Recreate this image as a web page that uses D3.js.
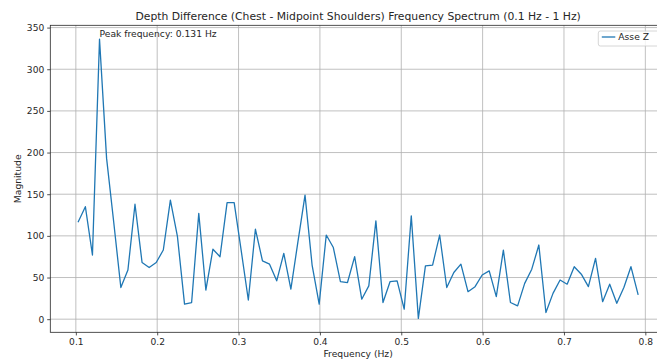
<!DOCTYPE html>
<html lang="en">
<head>
    <meta charset="utf-8">
    <title>Frequency Spectrum</title>
    <script src="https://d3js.org/d3.v7.min.js"></script>
    <style type="text/css">
        body{
            margin: 0;
            background: white;
            overflow: hidden;
        }
        text{
            font-family: "DejaVu Sans", sans-serif;
            fill: #262626;
        }
        .tick text{
            font-size: 9.1px;
        }
        .grid line{
            stroke: #b0b0b0;
            stroke-width: 0.8;
        }
    </style>
</head>
<body>
    <div id="frame"></div>
    <script type="text/javascript">

        // frequency bins (Hz)
        const frequencies = [
            0.1030, 0.1117, 0.1204, 0.1291, 0.1378, 0.1465, 0.1553, 0.1640, 0.1727, 0.1814,
            0.1901, 0.1988, 0.2075, 0.2162, 0.2249, 0.2336, 0.2423, 0.2511, 0.2598, 0.2685,
            0.2772, 0.2859, 0.2946, 0.3033, 0.3120, 0.3207, 0.3294, 0.3381, 0.3469, 0.3556,
            0.3643, 0.3730, 0.3817, 0.3904, 0.3991, 0.4078, 0.4165, 0.4252, 0.4339, 0.4427,
            0.4514, 0.4601, 0.4688, 0.4775, 0.4862, 0.4949, 0.5036, 0.5123, 0.5210, 0.5297,
            0.5385, 0.5472, 0.5559, 0.5646, 0.5733, 0.5820, 0.5907, 0.5994, 0.6081, 0.6168,
            0.6255, 0.6342, 0.6430, 0.6517, 0.6604, 0.6691, 0.6778, 0.6865, 0.6952, 0.7039,
            0.7126, 0.7213, 0.7300, 0.7388, 0.7475, 0.7562, 0.7649, 0.7736, 0.7823, 0.7910
        ];

        // magnitude, "Asse Z"
        const magnitudes = [
            117, 135, 77, 336, 193, 117, 38, 59, 138, 68,
            62, 68, 83, 143, 99, 18, 20, 127, 35, 84,
            75, 140, 140, 82, 23, 108, 70, 66, 46, 79,
            36, 93, 149, 65, 18, 101, 86, 45, 44, 75,
            24, 40, 118, 20, 45, 46, 12, 124, 1, 64,
            65, 101, 38, 56, 66, 33, 39, 53, 58, 27,
            83, 20, 16, 43, 60, 89, 8, 31, 47, 42,
            63, 54, 39, 73, 21, 42, 19, 38, 63, 30
        ];

        const xTicks = [0.1, 0.2, 0.3, 0.4, 0.5, 0.6, 0.7, 0.8];
        const yTicks = [0, 50, 100, 150, 200, 250, 300, 350];

        const seriesName = "Asse Z";
        const peakLabel = "Peak frequency: 0.131 Hz";
        const title = "Depth Difference (Chest - Midpoint Shoulders) Frequency Spectrum (0.1 Hz - 1 Hz)";

        const w = 657;
        const h = 362;
        // the axes run past the right edge of the window, as in the picture
        const mLeft = 50.3, mRight = 666, mTop = 25.3, mBottom = 332.3;

        const data = frequencies.map((f, i) => ({f: f, m: magnitudes[i]}));

        // matplotlib style 5% margins
        const fExt = d3.extent(frequencies);
        const mExt = d3.extent(magnitudes);
        const fPad = (fExt[1] - fExt[0]) * 0.05;
        const mPad = (mExt[1] - mExt[0]) * 0.05;

        const x = d3.scaleLinear()
            .domain([fExt[0] - fPad, fExt[1] + fPad])
            .range([mLeft, mRight]);

        const y = d3.scaleLinear()
            .domain([mExt[0] - mPad, mExt[1] + mPad])
            .range([mBottom, mTop]);

        const svg = d3.select("#frame").append("svg")
            .attr("width", w)
            .attr("height", h);

        //Grid
        svg.append("g")
            .attr("class", "grid")
            .selectAll("line.v")
            .data(xTicks)
            .enter()
            .append("line")
            .attr("x1", d => x(d)).attr("x2", d => x(d))
            .attr("y1", mTop).attr("y2", mBottom);

        svg.append("g")
            .attr("class", "grid")
            .selectAll("line.h")
            .data(yTicks)
            .enter()
            .append("line")
            .attr("x1", mLeft).attr("x2", mRight)
            .attr("y1", d => y(d)).attr("y2", d => y(d));

        //Axes
        const xAxis = d3.axisBottom(x)
            .tickValues(xTicks)
            .tickFormat(d3.format(".1f"))
            .tickSizeInner(3.1)
            .tickSizeOuter(0)
            .tickPadding(3);

        const yAxis = d3.axisLeft(y)
            .tickValues(yTicks)
            .tickFormat(d3.format("d"))
            .tickSizeInner(3.1)
            .tickSizeOuter(0)
            .tickPadding(3);

        const gx = svg.append("g")
            .attr("transform", "translate(0," + mBottom + ")")
            .call(xAxis);

        const gy = svg.append("g")
            .attr("transform", "translate(" + mLeft + ",0)")
            .call(yAxis);

        [gx, gy].forEach(g => {
            g.select(".domain").remove();
            g.selectAll(".tick line").attr("stroke", "#262626").attr("stroke-width", 0.8);
            g.selectAll(".tick text").attr("fill", "#262626");
        });

        //Spectrum line
        const line = d3.line()
            .x(d => x(d.f))
            .y(d => y(d.m));

        svg.append("path")
            .datum(data)
            .attr("fill", "none")
            .attr("stroke", "#1f77b4")
            .attr("stroke-width", 1.3)
            .attr("stroke-linejoin", "round")
            .attr("stroke-linecap", "square")
            .attr("d", line);

        //Frame
        svg.append("rect")
            .attr("x", mLeft).attr("y", mTop)
            .attr("width", mRight - mLeft).attr("height", mBottom - mTop)
            .attr("fill", "none")
            .attr("stroke", "#262626")
            .attr("stroke-width", 0.8);

        //Peak annotation
        const peak = data[d3.maxIndex(magnitudes)];
        svg.append("text")
            .attr("x", x(peak.f))
            .attr("y", y(peak.m) - 2)
            .style("font-size", "9.2px")
            .text(peakLabel);

        //Title and labels
        svg.append("text")
            .attr("x", (mLeft + mRight) / 2)
            .attr("y", 19.5)
            .attr("text-anchor", "middle")
            .style("font-size", "10.8px")
            .text(title);

        svg.append("text")
            .attr("x", (mLeft + mRight) / 2)
            .attr("y", 357)
            .attr("text-anchor", "middle")
            .style("font-size", "9.2px")
            .text("Frequency (Hz)");

        svg.append("text")
            .attr("transform", "translate(21," + ((mTop + mBottom) / 2) + ") rotate(-90)")
            .attr("text-anchor", "middle")
            .style("font-size", "9.2px")
            .text("Magnitude");

        //Legend
        const lg = svg.append("g")
            .attr("transform", "translate(598.3,31)");

        lg.append("rect")
            .attr("width", 62).attr("height", 15)
            .attr("rx", 2)
            .attr("fill", "white")
            .attr("fill-opacity", 0.8)
            .attr("stroke", "#cccccc")
            .attr("stroke-width", 0.8);

        lg.append("line")
            .attr("x1", 3.5).attr("x2", 17)
            .attr("y1", 6).attr("y2", 6)
            .attr("stroke", "#1f77b4")
            .attr("stroke-width", 1.3);

        lg.append("text")
            .attr("x", 20)
            .attr("y", 9.4)
            .style("font-size", "9.2px")
            .text(seriesName);

    </script>
</body>
</html>
